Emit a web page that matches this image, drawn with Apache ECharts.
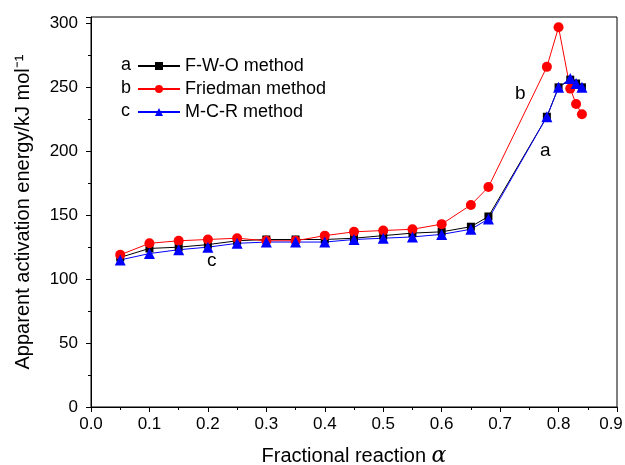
<!DOCTYPE html>
<html>
<head>
    <meta charset="utf-8">
    <style>
        html, body { width: 100%; height: 100%; margin: 0; background: #fff; }
        #chart-panel { width: 625px; height: 465px; }
    </style>
    <script src="https://cdn.jsdelivr.net/npm/echarts@6/dist/echarts.min.js"></script>
</head>
<body>
<div id="chart-panel"></div>
<script type="text/javascript">
  // fractional reaction alpha
  var alpha = [0.05, 0.1, 0.15, 0.2, 0.25, 0.3, 0.35, 0.4, 0.45, 0.5, 0.55, 0.6, 0.65, 0.68, 0.78, 0.8, 0.82, 0.83, 0.84];
  // activation energy, kJ/mol
  var fwo      = [117, 124, 125, 127, 130, 131, 131, 131, 132, 134, 136, 137, 141, 149, 227, 250, 256, 253, 250];
  var friedman = [119, 128, 130, 131, 132, 130, 130, 134, 137, 138, 139, 143, 158, 172, 266, 297, 249, 237, 229];
  var mcr      = [115, 120, 123, 125, 128, 129, 129, 129, 131, 132, 133, 135, 139, 147, 227, 250, 257, 253, 250];
  var xTicks = [0, 0.1, 0.2, 0.3, 0.4, 0.5, 0.6, 0.7, 0.8, 0.9];
  var yTicks = [0, 50, 100, 150, 200, 250, 300];

  function pairs(ys) {
    return alpha.map(function (a, i) { return [a, ys[i]]; });
  }

  var font = "'Liberation Sans', Arial, sans-serif";
  var myChart = echarts.init(document.getElementById('chart-panel'));

  var option = {
    animation: false,
    textStyle: { fontFamily: font, color: '#000' },
    grid: {
      left: 91, right: 8, top: 17, bottom: 58,
      outerBoundsMode: 'none',
      containLabel: false,
      show: true, borderColor: '#000', borderWidth: 1
    },
    legend: {
      orient: 'vertical',
      left: 132,
      top: 52,
      itemWidth: 42,
      itemHeight: 10,
      itemGap: 5,
      textStyle: { fontSize: 18, color: '#000', fontFamily: font },
      data: ['F-W-O method', 'Friedman method', 'M-C-R method']
    },
    xAxis: {
      type: 'value',
      min: 0, max: 0.9, interval: 0.1,
      name: '{t|Fractional reaction }{a|α}',
      nameLocation: 'middle',
      nameGap: 38,
      nameTextStyle: {
        rich: {
          t: { fontSize: 20, fontFamily: font, color: '#000' },
          a: { fontSize: 22, fontFamily: 'DejaVu Serif, serif', fontStyle: 'italic', color: '#000' }
        }
      },
      axisLine: { lineStyle: { color: '#000', width: 1 } },
      axisTick: { inside: false, length: 5, lineStyle: { color: '#000' } },
      minorTick: { show: true, splitNumber: 2, length: 3, lineStyle: { color: '#000' } },
      axisLabel: {
        fontSize: 17, color: '#000', margin: 9,
        formatter: function (v) {
          var s = v.toFixed(1);
          if (xTicks.indexOf(+s) < 0) return '';
          // keep the last label inside the canvas
          return +s === 0.9 ? '{e|' + s + '}' : s;
        },
        rich: { e: { fontSize: 17, color: '#000', padding: [0, 12, 0, 0] } }
      },
      splitLine: { show: false }
    },
    yAxis: {
      type: 'value',
      min: 0, max: 305, interval: 50,
      name: 'Apparent activation energy/kJ mol\u207B\u00B9',
      nameLocation: 'middle',
      nameGap: 58,
      nameTextStyle: { fontSize: 20, color: '#000', fontFamily: font },
      axisLine: { lineStyle: { color: '#000', width: 1 } },
      axisTick: { inside: false, length: 5, lineStyle: { color: '#000' } },
      minorTick: { show: true, splitNumber: 2, length: 3, lineStyle: { color: '#000' } },
      axisLabel: {
        fontSize: 17, color: '#000', margin: 13,
        formatter: function (v) { return yTicks.indexOf(v) >= 0 ? String(v) : ''; }
      },
      splitLine: { show: false }
    },
    graphic: [
      { type: 'text', left: 121, top: 56, style: { text: 'a', font: '18px ' + font, fill: '#000' } },
      { type: 'text', left: 121, top: 79, style: { text: 'b', font: '18px ' + font, fill: '#000' } },
      { type: 'text', left: 121, top: 102, style: { text: 'c', font: '18px ' + font, fill: '#000' } },
      { type: 'text', left: 515, top: 84, style: { text: 'b', font: '19px ' + font, fill: '#000' } },
      { type: 'text', left: 540, top: 141, style: { text: 'a', font: '19px ' + font, fill: '#000' } },
      { type: 'text', left: 207, top: 251, style: { text: 'c', font: '19px ' + font, fill: '#000' } }
    ],
    series: [{
      name: 'F-W-O method',
      type: 'line',
      data: pairs(fwo),
      symbol: 'rect',
      symbolSize: 8,
      itemStyle: { color: '#000' },
      lineStyle: { color: '#000', width: 1 }
    }, {
      name: 'Friedman method',
      type: 'line',
      data: pairs(friedman),
      symbol: 'circle',
      symbolSize: 10,
      itemStyle: { color: '#ff0000' },
      lineStyle: { color: '#ff0000', width: 1 }
    }, {
      name: 'M-C-R method',
      type: 'line',
      data: pairs(mcr),
      symbol: 'triangle',
      symbolSize: 11,
      itemStyle: { color: '#0000ff' },
      lineStyle: { color: '#0000ff', width: 1 }
    }]
  };

  myChart.setOption(option);
</script>
</body>
</html>
